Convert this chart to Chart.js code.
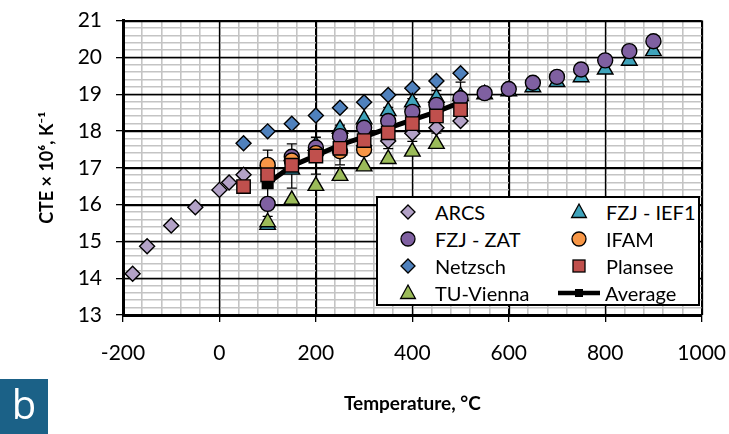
<!DOCTYPE html>
<html>
<head>
<meta charset="utf-8">
<script src="https://cdn.jsdelivr.net/npm/chart.js@4.4.1/dist/chart.umd.min.js"></script>
<style>
  body { margin: 0; background: #fff; }
  #wrap { position: relative; width: 729px; height: 434px; overflow: hidden; }
  #grafico { position: absolute; left: 0; top: -6px; }
  #leyenda {
    position: absolute; left: 376px; top: 196px; width: 324px; height: 110px;
    box-sizing: border-box; border: 2.5px solid #000; background: #fff;
    font: 20px Lato, sans-serif; color: #000;
  }
  .item { position: absolute; height: 27px; display: flex; align-items: center; white-space: nowrap; }
  .item svg { flex: none; }
  #etiqueta {
    position: absolute; left: 0; top: 379px; width: 48px; height: 55px;
    background: #1b6187; color: #fff; font: 40px "Open Sans", sans-serif;
    line-height: 50px; text-align: center;
  }
</style>
</head>
<body>
<div id="wrap">
  <canvas id="grafico" width="745" height="440"></canvas>
  <div id="leyenda"></div>
  <div id="etiqueta">b</div>
</div>
<script>
// Datos (CTE x 10^6, K^-1 frente a temperatura en °C)
const arcsT = [-180, -150, -100, -50, 0, 20, 50, 100, 150, 200, 250, 300, 350, 400, 450, 500];
const arcsV = [14.12, 14.87, 15.43, 15.93, 16.40, 16.60, 16.81, 17.05, 17.2, 17.35, 17.48, 17.6, 17.73, 17.94, 18.09, 18.27];

const zatT = [100, 150, 200, 250, 300, 350, 400, 450, 500, 550, 600, 650, 700, 750, 800, 850, 900];
const zatV = [16.02, 17.3, 17.55, 17.86, 18.09, 18.27, 18.52, 18.71, 18.89, 19.03, 19.14, 19.31, 19.47, 19.67, 19.92, 20.17, 20.44];

const netzschT = [50, 100, 150, 200, 250, 300, 350, 400, 450, 500];
const netzschV = [17.67, 17.99, 18.2, 18.42, 18.63, 18.78, 18.98, 19.16, 19.36, 19.57];

const tuT = [100, 150, 200, 250, 300, 350, 400, 450];
const tuV = [15.52, 16.13, 16.51, 16.78, 17.04, 17.24, 17.44, 17.65];

const ief1T = [100, 150, 200, 250, 300, 350, 400, 450, 500, 550, 600, 650, 700, 750, 800, 850, 900];
const ief1V = [15.45, 16.95, 17.6, 18.06, 18.32, 18.54, 18.78, 18.9, 18.95, 19.0, 19.08, 19.19, 19.33, 19.46, 19.67, 19.91, 20.17];

const ifamT = [100, 150, 200, 250, 300];
const ifamV = [17.08, 17.2, 17.4, 17.45, 17.5];

const planseeT = [50, 100, 150, 200, 250, 300, 350, 400, 450, 500];
const planseeV = [16.49, 16.81, 17.07, 17.32, 17.53, 17.74, 17.95, 18.2, 18.41, 18.58];

const mediaT = [100, 150, 200, 250, 300, 350, 400, 450, 500];
const mediaV = [16.58, 17.05, 17.33, 17.62, 17.84, 18.08, 18.3, 18.52, 18.78];
const mediaErr = [0.9, 0.6, 0.5, 0.54, 0.5, 0.56, 0.58, 0.58, 0.55];

const xTicksMayores = [-200, 0, 200, 400, 600, 800, 1000];
const yTicksMayores = [13, 14, 15, 16, 17, 18, 19, 20, 21];

function puntos(xs, ys) {
  return xs.map((x, i) => ({ x: x, y: ys[i] }));
}

// orden: valor mayor se dibuja debajo
const series = [
  { label: "ARCS", data: puntos(arcsT, arcsV), color: "#b3a2c7", forma: "rectRot", r: 7.5, orden: 5, col: 0, fila: 0 },
  { label: "FZJ - ZAT", data: puntos(zatT, zatV), color: "#7f60a1", forma: "circle", r: 7.5, orden: 2, col: 0, fila: 1 },
  { label: "Netzsch", data: puntos(netzschT, netzschV), color: "#4f81bd", forma: "rectRot", r: 7.5, orden: 6, col: 0, fila: 2 },
  { label: "TU-Vienna", data: puntos(tuT, tuV), color: "#9bbb59", forma: "triangle", r: 9, orden: 3, col: 0, fila: 3 },
  { label: "FZJ - IEF1", data: puntos(ief1T, ief1V), color: "#3fa3bb", forma: "triangle", r: 9, orden: 4, col: 1, fila: 0 },
  { label: "IFAM", data: puntos(ifamT, ifamV), color: "#f79646", forma: "circle", r: 7.5, orden: 1, col: 1, fila: 1 },
  { label: "Plansee", data: puntos(planseeT, planseeV), color: "#c0504d", forma: "rect", r: 9.5, orden: 0, col: 1, fila: 2 },
];

const datasets = series.map((s) => ({
  label: s.label,
  data: s.data,
  showLine: false,
  pointStyle: s.forma,
  pointRadius: s.r,
  pointHoverRadius: s.r,
  pointBackgroundColor: s.color,
  pointBorderColor: "#000",
  pointBorderWidth: 1.4,
  order: s.orden,
}));

datasets.push({
  label: "Average",
  data: puntos(mediaT, mediaV),
  showLine: true,
  borderColor: "#000",
  borderWidth: 5,
  pointStyle: "rect",
  pointRadius: 5,
  pointBackgroundColor: "#000",
  pointBorderColor: "#000",
  order: 7,
});

const esMayor = (v, lista) => lista.some((m) => Math.abs(m - v) < 1e-6);

// vuelve a pintar la rejilla principal encima de la secundaria
const rejillaMayor = {
  id: "rejillaMayor",
  beforeDatasetsDraw(chart) {
    const { ctx, chartArea: a, scales } = chart;
    ctx.save();
    ctx.strokeStyle = "#000";
    ctx.lineWidth = 1.3;
    ctx.beginPath();
    xTicksMayores.forEach((v) => {
      const x = Math.round(scales.x.getPixelForValue(v)) + 0.5;
      ctx.moveTo(x, a.top);
      ctx.lineTo(x, a.bottom);
    });
    yTicksMayores.forEach((v) => {
      const y = Math.round(scales.y.getPixelForValue(v)) + 0.5;
      ctx.moveTo(a.left, y);
      ctx.lineTo(a.right, y);
    });
    ctx.stroke();
    ctx.restore();
  },
};

// barras de error de la media, dibujadas antes de los marcadores
const barrasError = {
  id: "barrasError",
  beforeDatasetsDraw(chart) {
    const { ctx, scales } = chart;
    ctx.save();
    ctx.strokeStyle = "#000";
    ctx.lineWidth = 1.3;
    mediaT.forEach((t, i) => {
      const x = scales.x.getPixelForValue(t);
      const y1 = scales.y.getPixelForValue(mediaV[i] + mediaErr[i]);
      const y2 = scales.y.getPixelForValue(mediaV[i] - mediaErr[i]);
      ctx.beginPath();
      ctx.moveTo(x, y1);
      ctx.lineTo(x, y2);
      ctx.moveTo(x - 5, y1);
      ctx.lineTo(x + 5, y1);
      ctx.moveTo(x - 5, y2);
      ctx.lineTo(x + 5, y2);
      ctx.stroke();
    });
    ctx.restore();
  },
};

new Chart(document.getElementById("grafico"), {
  type: "scatter",
  data: { datasets: datasets },
  plugins: [rejillaMayor, barrasError],
  options: {
    responsive: false,
    animation: false,
    events: [],
    layout: { padding: { top: 13, right: 11, left: 0, bottom: 0 } },
    plugins: { legend: { display: false }, tooltip: { enabled: false } },
    scales: {
      x: {
        type: "linear",
        min: -200,
        max: 1000,
        afterFit: (s) => { s.height = 119; },
        afterBuildTicks: (s) => {
          const t = [];
          for (let v = -200; v <= 1000; v += 40) t.push({ value: v });
          s.ticks = t;
        },
        ticks: {
          autoSkip: false,
          maxRotation: 0,
          padding: 19,
          color: "#000",
          font: { family: "Lato", size: 21 },
          callback: (v) => (esMayor(v, xTicksMayores) ? String(v) : ""),
        },
        grid: {
          color: (c) => (esMayor(c.tick.value, xTicksMayores) ? "#000" : "#c4c4c4"),
          lineWidth: (c) => (esMayor(c.tick.value, xTicksMayores) ? 1.3 : 1.6),
          tickColor: (c) => (esMayor(c.tick.value, xTicksMayores) ? "#000" : "rgba(0,0,0,0)"),
          tickLength: 7,
        },
        border: { color: "#000", width: 3 },
        title: {
          display: true,
          text: "Temperature, °C",
          color: "#000",
          font: { family: "Lato", size: 19, weight: "bold" },
          padding: { top: 0, bottom: 19 },
        },
      },
      y: {
        type: "linear",
        min: 13,
        max: 21,
        afterFit: (s) => { s.width = 123; },
        afterBuildTicks: (s) => {
          const t = [];
          for (let i = 0; i <= 40; i++) t.push({ value: 13 + i * 0.2 });
          s.ticks = t;
        },
        ticks: {
          autoSkip: false,
          padding: 14,
          color: "#000",
          font: { family: "Lato", size: 21 },
          callback: (v) => (esMayor(v, yTicksMayores) ? String(Math.round(v)) : ""),
        },
        grid: {
          color: (c) => (esMayor(c.tick.value, yTicksMayores) ? "#000" : "#c4c4c4"),
          lineWidth: (c) => (esMayor(c.tick.value, yTicksMayores) ? 1.3 : 1.6),
          tickColor: (c) => (esMayor(c.tick.value, yTicksMayores) ? "#000" : "rgba(0,0,0,0)"),
          tickLength: 7,
        },
        border: { color: "#000", width: 3 },
        title: {
          display: true,
          text: "CTE × 10⁶, K⁻¹",
          color: "#000",
          font: { family: "Lato", size: 18, weight: "bold" },
          padding: { top: 36, bottom: 0 },
        },
      },
    },
  },
});

// leyenda en dos columnas dentro del gráfico
function icono(s) {
  const f = s.color;
  if (s.forma === "rectRot")
    return `<svg width="40" height="20"><polygon points="20,3 27,10 20,17 13,10" fill="${f}" stroke="#000" stroke-width="1.3"/></svg>`;
  if (s.forma === "circle")
    return `<svg width="40" height="20"><circle cx="20" cy="10" r="7" fill="${f}" stroke="#000" stroke-width="1.3"/></svg>`;
  if (s.forma === "triangle")
    return `<svg width="40" height="20"><polygon points="20,2 27.4,15.5 12.6,15.5" fill="${f}" stroke="#000" stroke-width="1.3"/></svg>`;
  if (s.forma === "rect")
    return `<svg width="40" height="20"><rect x="14" y="4" width="12" height="12" fill="${f}" stroke="#000" stroke-width="1.3"/></svg>`;
  return `<svg width="46" height="20"><line x1="2" y1="10" x2="44" y2="10" stroke="#000" stroke-width="4.5"/><rect x="19" y="6" width="8" height="8" fill="#000"/></svg>`;
}

const leyenda = document.getElementById("leyenda");
const itemsLeyenda = series.concat([{ label: "Average", forma: "linea", col: 1, fila: 3 }]);
itemsLeyenda.forEach((s) => {
  const div = document.createElement("div");
  div.className = "item";
  const izq = s.col === 0 ? 10 : (s.forma === "linea" ? 178 : 181);
  div.style.left = izq + "px";
  div.style.top = (s.fila * 27.3) + "px";
  div.innerHTML = icono(s) + `<span style="margin-left:${s.forma === "linea" ? 3 : 7}px">${s.label}</span>`;
  leyenda.appendChild(div);
});
</script>
</body>
</html>
